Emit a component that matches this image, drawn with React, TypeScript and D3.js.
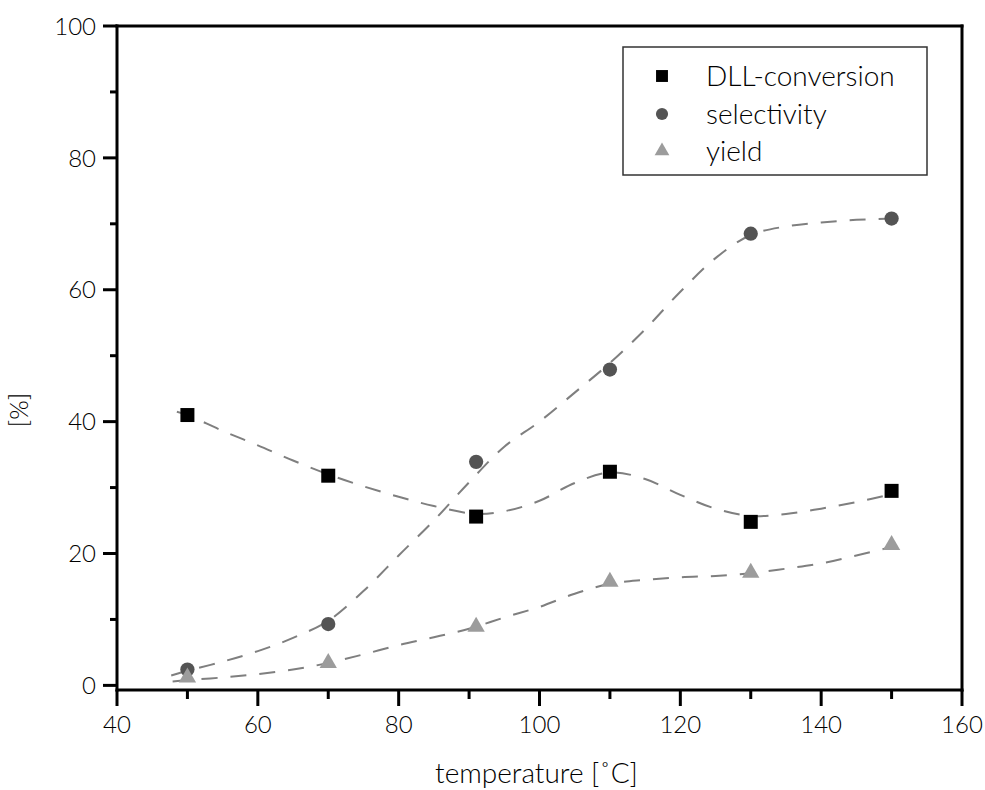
import React from "react";
import * as d3 from "d3";

// Measured temperatures and results
const temperatures = [50, 70, 91, 110, 130, 150];
const conversion = [41.0, 31.8, 25.6, 32.4, 24.8, 29.5];
const selectivity = [2.4, 9.3, 33.9, 47.9, 68.5, 70.8];
const yieldValues = [1.2, 3.4, 8.9, 15.7, 17.1, 21.3];

// Smoothed fit curves (x knots and fitted values)
const fitConversionX = [48.5, 50, 55, 60, 65, 70, 75, 80, 85, 91, 95, 100, 105, 110, 115, 120, 125, 130, 135, 140, 145, 150];
const fitConversionY = [41.5, 41.0, 38.6, 36.4, 34.1, 32.0, 30.2, 28.6, 27.2, 26.0, 26.4, 28.0, 30.7, 32.3, 31.3, 28.9, 26.8, 25.7, 26.0, 26.8, 27.8, 29.0];
const fitSelectivityX = [47.7, 50, 55, 60, 65, 70, 75, 80, 85, 90, 95, 100, 105, 110, 115, 120, 125, 130, 135, 140, 145, 150];
const fitSelectivityY = [1.5, 2.2, 3.6, 5.2, 7.2, 9.8, 14.3, 19.7, 25.0, 30.8, 36.2, 40.0, 44.4, 48.9, 54.0, 59.7, 64.8, 68.3, 69.6, 70.2, 70.6, 70.8];
const fitYieldX = [47.9, 50, 55, 60, 65, 70, 75, 80, 85, 90, 95, 100, 105, 110, 115, 120, 125, 130, 135, 140, 145, 150];
const fitYieldY = [0.6, 0.8, 1.2, 1.7, 2.4, 3.4, 4.7, 6.1, 7.3, 8.6, 10.3, 11.9, 13.9, 15.4, 16.0, 16.4, 16.6, 17.0, 17.7, 18.5, 19.7, 21.0];

const xMajorTicks = [40, 60, 80, 100, 120, 140, 160];
const xMinorTicks = [50, 70, 90, 110, 130, 150];
const yMajorTicks = [0, 20, 40, 60, 80, 100];
const yMinorTicks = [10, 30, 50, 70, 90];

const legendLabels = ["DLL-conversion", "selectivity", "yield"];
const xTitle = "temperature [˚C]";
const yTitle = "[%]";

const W = 985;
const H = 790;
const left = 117;
const right = 962;
const top = 26;
const bottom = 690;

const FONT = "Lato, 'Open Sans', sans-serif";
const LINE_COLOR = "#7f7f7f";
const SQUARE_COLOR = "#000000";
const CIRCLE_COLOR = "#545454";
const TRIANGLE_COLOR = "#9c9c9c";

export default function App() {
  const x = d3.scaleLinear().domain([40, 160]).range([left, right]);
  const y = d3.scaleLinear().domain([-0.7, 100]).range([bottom, top]);

  const line = d3
    .line<[number, number]>()
    .x((d) => x(d[0]))
    .y((d) => y(d[1]))
    .curve(d3.curveCatmullRom.alpha(0.5));

  const fits = [
    { xs: fitConversionX, ys: fitConversionY },
    { xs: fitSelectivityX, ys: fitSelectivityY },
    { xs: fitYieldX, ys: fitYieldY },
  ];

  const square = d3.symbol().type(d3.symbolSquare).size(196);
  const circle = d3.symbol().type(d3.symbolCircle).size(160);
  const triangle = d3.symbol().type(d3.symbolTriangle).size(130);

  const series = [
    { values: conversion, path: square(), color: SQUARE_COLOR },
    { values: selectivity, path: circle(), color: CIRCLE_COLOR },
    { values: yieldValues, path: triangle(), color: TRIANGLE_COLOR },
  ];

  const legendX = 623;
  const legendY = 47;
  const legendW = 304;
  const legendH = 128;
  const legendRows = [76, 114, 151];

  return (
    <svg
      width={W}
      height={H}
      viewBox={`0 0 ${W} ${H}`}
      style={{ position: "absolute", left: 0, top: 0, background: "#fff" }}
    >
      <rect x={0} y={0} width={W} height={H} fill="#fff" />

      {/* fit curves */}
      {fits.map((f, i) => (
        <path
          key={`fit-${i}`}
          d={line(f.xs.map((v, j) => [v, f.ys[j]] as [number, number])) || ""}
          fill="none"
          stroke={LINE_COLOR}
          strokeWidth={2}
          strokeDasharray="16 13"
        />
      ))}

      {/* data markers */}
      {series.map((s, i) => (
        <g key={`series-${i}`}>
          {s.values.map((v, j) => (
            <path
              key={j}
              d={s.path || ""}
              transform={`translate(${x(temperatures[j])},${y(v)})`}
              fill={s.color}
            />
          ))}
        </g>
      ))}

      {/* frame */}
      <g stroke="#000" strokeWidth={3} fill="none" strokeLinecap="square">
        <line x1={left} y1={top} x2={right} y2={top} />
        <line x1={right} y1={top} x2={right} y2={bottom} />
        <line x1={left} y1={bottom} x2={right} y2={bottom} />
        <line x1={left} y1={top} x2={left} y2={bottom} />
      </g>

      {/* ticks */}
      <g stroke="#000" strokeWidth={3}>
        {xMajorTicks.map((t) => (
          <line key={`xM${t}`} x1={x(t)} x2={x(t)} y1={bottom} y2={bottom + 16} />
        ))}
        {xMinorTicks.map((t) => (
          <line key={`xm${t}`} x1={x(t)} x2={x(t)} y1={bottom} y2={bottom + 9} />
        ))}
        {yMajorTicks.map((t) => (
          <line key={`yM${t}`} x1={left - 14} x2={left} y1={y(t)} y2={y(t)} />
        ))}
        {yMinorTicks.map((t) => (
          <line key={`ym${t}`} x1={left - 7} x2={left} y1={y(t)} y2={y(t)} />
        ))}
      </g>

      {/* tick labels */}
      <g fontFamily={FONT} fontSize={24} fontWeight={300} fill="#000">
        {xMajorTicks.map((t) => (
          <text key={`xl${t}`} x={x(t)} y={bottom + 43} textAnchor="middle">
            {t}
          </text>
        ))}
        {yMajorTicks.map((t) => (
          <text key={`yl${t}`} x={left - 21} y={y(t)} dy="0.36em" textAnchor="end">
            {t}
          </text>
        ))}
      </g>

      {/* axis titles */}
      <text
        x={(left + right) / 2 - 3}
        y={783}
        textAnchor="middle"
        fontFamily={FONT}
        fontSize={28}
        fontWeight={300}
        fill="#000"
      >
        {xTitle}
      </text>
      <text
        transform={`translate(28,${(top + bottom) / 2 + 52}) rotate(-90)`}
        textAnchor="middle"
        fontFamily={FONT}
        fontSize={25}
        fontWeight={300}
        fill="#000"
      >
        {yTitle}
      </text>

      {/* legend */}
      <rect
        x={legendX}
        y={legendY}
        width={legendW}
        height={legendH}
        fill="#fff"
        stroke="#333"
        strokeWidth={1.5}
      />
      {series.map((s, i) => (
        <g key={`leg-${i}`}>
          <path
            d={s.path || ""}
            transform={`translate(${legendX + 39},${legendRows[i]}) scale(0.85)`}
            fill={s.color}
          />
          <text
            x={legendX + 83}
            y={legendRows[i]}
            dy="0.35em"
            fontFamily={FONT}
            fontSize={28}
            fontWeight={300}
            fill="#000"
          >
            {legendLabels[i]}
          </text>
        </g>
      ))}
    </svg>
  );
}
